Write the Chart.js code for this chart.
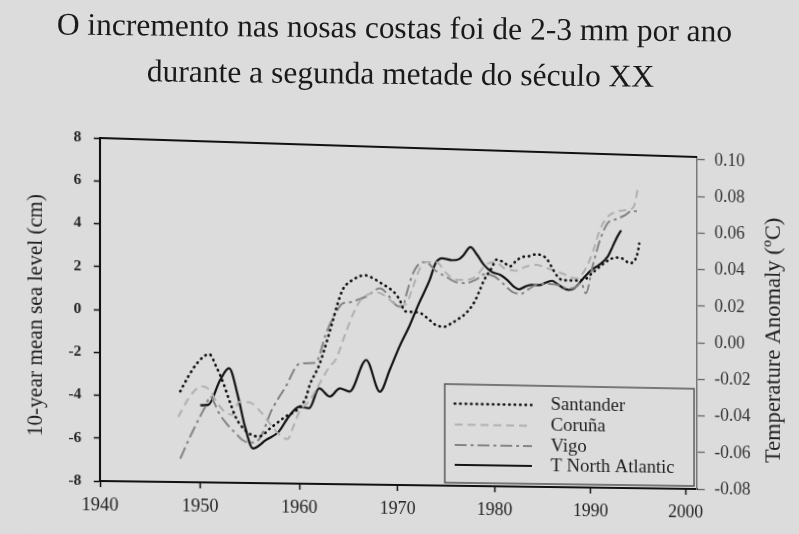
<!DOCTYPE html>
<html><head><meta charset="utf-8">
<script src="https://cdn.jsdelivr.net/npm/chart.js@4.4.0/dist/chart.umd.min.js"></script>
<style>
html,body{margin:0;padding:0;background:#dcdcdc;overflow:hidden;}
#wrap{position:relative;width:799px;height:534px;overflow:hidden;background:#dcdcdc;}
canvas{display:block;position:absolute;left:0;top:0;}
.ttl{position:absolute;left:0;width:799px;text-align:center;white-space:nowrap;
  font-family:"Liberation Serif","DejaVu Serif",serif;font-size:31.5px;line-height:31px;color:#1a1a1a;}
</style></head><body>
<div id="wrap">
<canvas id="c" width="799" height="534"></canvas>
<div class="ttl" id="t1" style="top:12px;transform:translateX(-5px) rotate(0.6deg);"></div>
<div class="ttl" id="t2" style="top:58px;transform:translateX(1px) rotate(0.6deg);"></div>
</div>
<script>
// ---- text ----
const titleLines = ["O incremento nas nosas costas foi de 2-3 mm por ano", "durante a segunda metade do século XX"];
const leftAxisTitle = "10-year mean sea level (cm)";
const rightAxisTitle = "Temperature Anomaly (ºC)";
const seriesNames = ["Santander", "Coruña", "Vigo", "T North Atlantic"];

// ---- axes ----
const xTickValues = [1940, 1950, 1960, 1970, 1980, 1990, 2000];
const leftTickValues = [-8, -6, -4, -2, 0, 2, 4, 6, 8];
const rightTickValues = [-0.08, -0.06, -0.04, -0.02, 0.00, 0.02, 0.04, 0.06, 0.08, 0.10];

// ---- data: Santander (cm) ----
const santanderYears = [1948, 1948.8, 1949.8, 1950.9, 1951.6, 1952.3, 1952.9, 1953.5, 1954.0, 1955.2, 1955.9, 1957.2, 1958.6, 1959.8, 1960.7, 1961.0, 1962.0, 1962.5, 1963.2, 1963.9, 1964.4, 1965.2, 1966.7, 1967.5, 1968.3, 1969.2, 1969.9, 1970.4, 1970.7, 1971.4, 1972.2, 1973.1, 1973.9, 1974.8, 1975.6, 1976.3, 1977.0, 1977.9, 1978.4, 1978.9, 1979.7, 1980.2, 1980.9, 1981.6, 1982.2, 1982.8, 1983.5, 1984.3, 1985.0, 1985.5, 1986.2, 1986.5, 1987.1, 1988.0, 1989.5, 1990.1, 1992.0, 1992.7, 1993.4, 1994.1, 1994.7, 1995.0, 1995.1];
const santanderCm = [-3.75, -3.05, -2.35, -1.98, -2.55, -3.3, -4.1, -4.85, -5.25, -5.75, -5.8, -5.35, -4.85, -4.5, -3.9, -3.4, -2.4, -1.7, -0.6, 0.55, 1.2, 1.6, 1.9, 1.77, 1.55, 1.3, 1.0, 0.6, 0.25, 0.22, 0.2, -0.07, -0.37, -0.45, -0.26, -0.05, 0.2, 0.75, 1.25, 1.8, 2.4, 2.8, 2.7, 2.5, 2.75, 2.95, 3.0, 3.1, 3.05, 2.85, 2.3, 2.1, 1.9, 1.9, 2.0, 2.25, 2.95, 3.05, 3.0, 2.8, 3.0, 3.45, 3.75];

// ---- data: Coruña (cm) ----
const corunaYears = [1947.8, 1948.8, 1949.8, 1950.3, 1951.0, 1951.5, 1952.3, 1953.2, 1953.9, 1954.9, 1955.9, 1957.2, 1958.2, 1958.8, 1959.4, 1960.0, 1961.0, 1962.0, 1963.0, 1963.7, 1964.7, 1965.5, 1966.2, 1967.2, 1968.0, 1969.0, 1970.0, 1970.8, 1971.5, 1972.3, 1973.0, 1974.0, 1975.0, 1976.0, 1977.0, 1978.0, 1979.1, 1980.1, 1981.0, 1982.2, 1983.2, 1984.3, 1985.5, 1986.5, 1987.5, 1988.5, 1989.5, 1990.3, 1991.0, 1991.8, 1992.7, 1993.8, 1994.5, 1995.0];
const corunaCm = [-4.95, -4.1, -3.55, -3.5, -3.7, -4.1, -4.6, -4.8, -4.2, -4.2, -4.55, -5.3, -5.8, -5.9, -5.3, -4.6, -4.1, -3.3, -2.5, -2.1, -0.85, 0.1, 0.7, 1.05, 1.1, 0.85, 0.5, 0.55, 1.3, 2.3, 2.6, 2.6, 2.1, 1.8, 1.8, 1.95, 2.55, 2.7, 2.4, 2.3, 2.5, 2.6, 2.45, 2.3, 2.15, 2.0, 2.5, 3.4, 4.4, 5.0, 5.25, 5.35, 5.5, 6.5];

// ---- data: Vigo (cm) ----
const vigoYears = [1948.0, 1949.0, 1950.0, 1950.5, 1951.0, 1951.4, 1951.9, 1952.6, 1953.5, 1954.3, 1955.0, 1955.9, 1957.2, 1958.6, 1960.0, 1961.4, 1961.8, 1962.7, 1963.7, 1964.4, 1965.1, 1966.0, 1966.8, 1968.2, 1969.2, 1969.9, 1970.5, 1971.0, 1971.5, 1972.2, 1972.9, 1973.9, 1975.1, 1975.9, 1977.0, 1978.0, 1979.0, 1980.0, 1980.8, 1981.8, 1982.7, 1983.6, 1984.6, 1985.7, 1986.7, 1987.7, 1988.5, 1989.0, 1989.5, 1990.2, 1991.0, 1991.8, 1992.7, 1993.6, 1994.3, 1995.0];
const vigoCm = [-6.9, -5.85, -4.9, -4.45, -3.97, -4.25, -4.75, -5.2, -5.65, -6.0, -6.1, -5.95, -4.55, -3.45, -2.35, -2.3, -2.2, -0.9, 0.1, 0.55, 0.6, 0.75, 0.9, 1.3, 0.9, 0.5, 0.45, 1.2, 1.95, 2.5, 2.6, 2.2, 1.9, 1.7, 1.65, 1.8, 2.1, 2.0, 1.7, 1.3, 1.2, 1.45, 1.7, 1.7, 1.65, 1.5, 1.6, 1.8, 1.3, 2.6, 3.9, 4.7, 4.9, 5.1, 5.3, 5.3];

// ---- data: T North Atlantic (ºC, right axis) ----
const tempYears = [1950.0, 1950.8, 1952.0, 1952.9, 1953.8, 1954.5, 1955.3, 1956.6, 1957.9, 1958.9, 1960.0, 1961.0, 1962.0, 1963.1, 1964.1, 1965.1, 1966.8, 1968.2, 1969.2, 1970.2, 1971.2, 1972.2, 1973.3, 1973.9, 1974.6, 1975.6, 1976.3, 1976.8, 1977.5, 1978.2, 1978.9, 1979.7, 1980.6, 1981.3, 1982.0, 1982.5, 1983.1, 1983.8, 1984.6, 1985.3, 1986.0, 1986.5, 1987.2, 1987.7, 1988.3, 1989.4, 1990.1, 1990.9, 1991.8, 1992.3, 1992.8, 1993.2];
const tempAnomaly = [-0.039, -0.0387, -0.0253, -0.019, -0.034, -0.050, -0.0615, -0.057, -0.0524, -0.0444, -0.0388, -0.0395, -0.0288, -0.0331, -0.0286, -0.0302, -0.0131, -0.030, -0.0182, -0.0055, 0.0054, 0.018, 0.0307, 0.0398, 0.0426, 0.0417, 0.0423, 0.0447, 0.049, 0.0449, 0.0396, 0.036, 0.0344, 0.0318, 0.0282, 0.0268, 0.0282, 0.0294, 0.0294, 0.0308, 0.0319, 0.0303, 0.028, 0.0272, 0.0282, 0.0347, 0.0384, 0.0412, 0.0459, 0.0513, 0.0568, 0.0604];

function pts(xs, ys) { return xs.map((x, i) => ({ x: x, y: ys[i] })); }

document.getElementById('t1').textContent = titleLines[0];
document.getElementById('t2').textContent = titleLines[1];

const SERIF = '"Liberation Serif", "DejaVu Serif", serif';
Chart.defaults.font.family = SERIF;
Chart.defaults.color = '#222';

const bgPlugin = {
  id: 'bg',
  beforeDraw(chart) {
    const c = chart.ctx;
    c.save();
    c.fillStyle = '#dcdcdc';
    c.fillRect(0, 0, chart.width, chart.height);
    c.restore();
  }
};

const decorPlugin = {
  id: 'decor',
  afterDraw(chart) {
    const c = chart.ctx;
    const a = chart.chartArea;
    c.save();
    // top frame line
    c.strokeStyle = '#111';
    c.lineWidth = 2;
    c.beginPath();
    c.moveTo(a.left, a.top);
    c.lineTo(a.right, a.top);
    c.stroke();
    // left axis title (reads bottom to top)
    c.save();
    c.translate(38, (a.top + a.bottom) / 2 + 7);
    c.rotate(-Math.PI / 2);
    c.font = '21px ' + SERIF;
    c.fillStyle = '#1e1e1e';
    c.textAlign = 'center';
    c.textBaseline = 'middle';
    c.fillText(leftAxisTitle, 0, 0);
    c.restore();
    // right axis title (reads bottom to top)
    c.save();
    c.translate(777, (a.top + a.bottom) / 2 + 16);
    c.rotate(-Math.PI / 2);
    c.font = '23px ' + SERIF;
    c.fillStyle = '#222';
    c.textAlign = 'center';
    c.textBaseline = 'middle';
    c.fillText(rightAxisTitle, 0, 0);
    c.restore();
    // legend box
    const right = a.right - 3, bottom = a.bottom - 3;
    const left = right - 254, top = bottom - 99;
    c.strokeStyle = '#555';
    c.lineWidth = 1.5;
    c.strokeRect(left, top, right - left, bottom - top);
    const rows = [19.5, 40.5, 61, 81];
    c.font = '19px ' + SERIF;
    c.textAlign = 'left';
    c.textBaseline = 'middle';
    chart.data.datasets.forEach((ds, i) => {
      const y = top + rows[i];
      c.save();
      c.strokeStyle = ds.borderColor;
      c.lineWidth = ds.borderWidth;
      c.lineCap = ds.borderCapStyle || 'butt';
      c.setLineDash(ds.borderDash || []);
      c.beginPath();
      c.moveTo(left + 10, y);
      c.lineTo(left + 88, y);
      c.stroke();
      c.restore();
      c.fillStyle = '#1e1e1e';
      c.fillText(ds.label, left + 107, y);
    });
    c.restore();
  }
};

const chart = new Chart(document.getElementById('c'), {
  type: 'line',
  data: {
    datasets: [
      { label: seriesNames[0], data: pts(santanderYears, santanderCm), yAxisID: 'y',
        borderColor: '#111', borderWidth: 2.6, borderDash: [0.5, 5], borderCapStyle: 'round' },
      { label: seriesNames[1], data: pts(corunaYears, corunaCm), yAxisID: 'y',
        borderColor: '#b0b0b0', borderWidth: 2, borderDash: [8, 5] },
      { label: seriesNames[2], data: pts(vigoYears, vigoCm), yAxisID: 'y',
        borderColor: '#858585', borderWidth: 2, borderDash: [12, 4, 3, 4] },
      { label: seriesNames[3], data: pts(tempYears, tempAnomaly), yAxisID: 'y2',
        borderColor: '#141414', borderWidth: 2.2 }
    ]
  },
  options: {
    responsive: false,
    animation: false,
    events: [],
    parsing: false,
    elements: { point: { radius: 0 }, line: { cubicInterpolationMode: 'monotone', fill: false } },
    layout: { padding: { top: 147, left: 0, right: 0, bottom: 0 } },
    plugins: { legend: { display: false }, tooltip: { enabled: false }, title: { display: false } },
    scales: {
      x: {
        type: 'linear', min: 1940, max: 2001.2,
        afterFit(s) { s.height = 49; },
        afterBuildTicks(s) { s.ticks = xTickValues.map(v => ({ value: v })); },
        ticks: { includeBounds: false, font: { size: 18 }, color: '#222', padding: 7, maxRotation: 0,
                 callback: v => String(v) },
        grid: { display: true, drawOnChartArea: false, drawTicks: true, tickLength: 6, tickColor: '#111', tickWidth: 1.5 },
        border: { display: true, color: '#111', width: 2 }
      },
      y: {
        type: 'linear', position: 'left', min: -8, max: 8,
        afterFit(s) { s.width = 100; },
        afterBuildTicks(s) { s.ticks = leftTickValues.map(v => ({ value: v })); },
        ticks: { font: { size: 15, weight: 'bold' }, color: '#222', padding: 12,
                 callback: v => String(v) },
        grid: { display: true, drawOnChartArea: false, drawTicks: true, tickLength: 6, tickColor: '#111', tickWidth: 1.5 },
        border: { display: true, color: '#111', width: 2 }
      },
      y2: {
        type: 'linear', position: 'right', min: -0.08, max: 0.1016,
        afterFit(s) { s.width = 102; },
        afterBuildTicks(s) { s.ticks = rightTickValues.map(v => ({ value: v })); },
        ticks: { font: { size: 18 }, color: '#333', padding: 10,
                 callback: v => v.toFixed(2) },
        grid: { display: true, drawOnChartArea: false, drawTicks: true, tickLength: 8, tickColor: '#666', tickWidth: 1.3 },
        border: { display: true, color: '#777', width: 1.5 }
      }
    }
  },
  plugins: [bgPlugin, decorPlugin]
});

// ---- photo perspective: map the plot frame onto the photographed quadrilateral ----
function homography(src, dst) {
  const A = [], b = [];
  for (let i = 0; i < 4; i++) {
    const [x, y] = src[i], [u, v] = dst[i];
    A.push([x, y, 1, 0, 0, 0, -x * u, -y * u]); b.push(u);
    A.push([0, 0, 0, x, y, 1, -x * v, -y * v]); b.push(v);
  }
  const n = 8;
  for (let c = 0; c < n; c++) {
    let p = c;
    for (let r = c + 1; r < n; r++) if (Math.abs(A[r][c]) > Math.abs(A[p][c])) p = r;
    [A[c], A[p]] = [A[p], A[c]]; [b[c], b[p]] = [b[p], b[c]];
    for (let r = 0; r < n; r++) {
      if (r === c) continue;
      const f = A[r][c] / A[c][c];
      for (let k = c; k < n; k++) A[r][k] -= f * A[c][k];
      b[r] -= f * b[c];
    }
  }
  return b.map((v, i) => v / A[i][i]);
}
const ca = chart.chartArea;
const H = homography(
  [[ca.left, ca.top], [ca.right, ca.top], [ca.left, ca.bottom], [ca.right, ca.bottom]],
  [[100, 138], [697, 157], [100, 481], [697, 489]]
);
const cv = document.getElementById('c');
cv.style.transformOrigin = '0 0';
cv.style.transform = 'matrix3d(' + [H[0], H[3], 0, H[6], H[1], H[4], 0, H[7], 0, 0, 1, 0, H[2], H[5], 0, 1].join(',') + ')';
</script>
</body></html>
